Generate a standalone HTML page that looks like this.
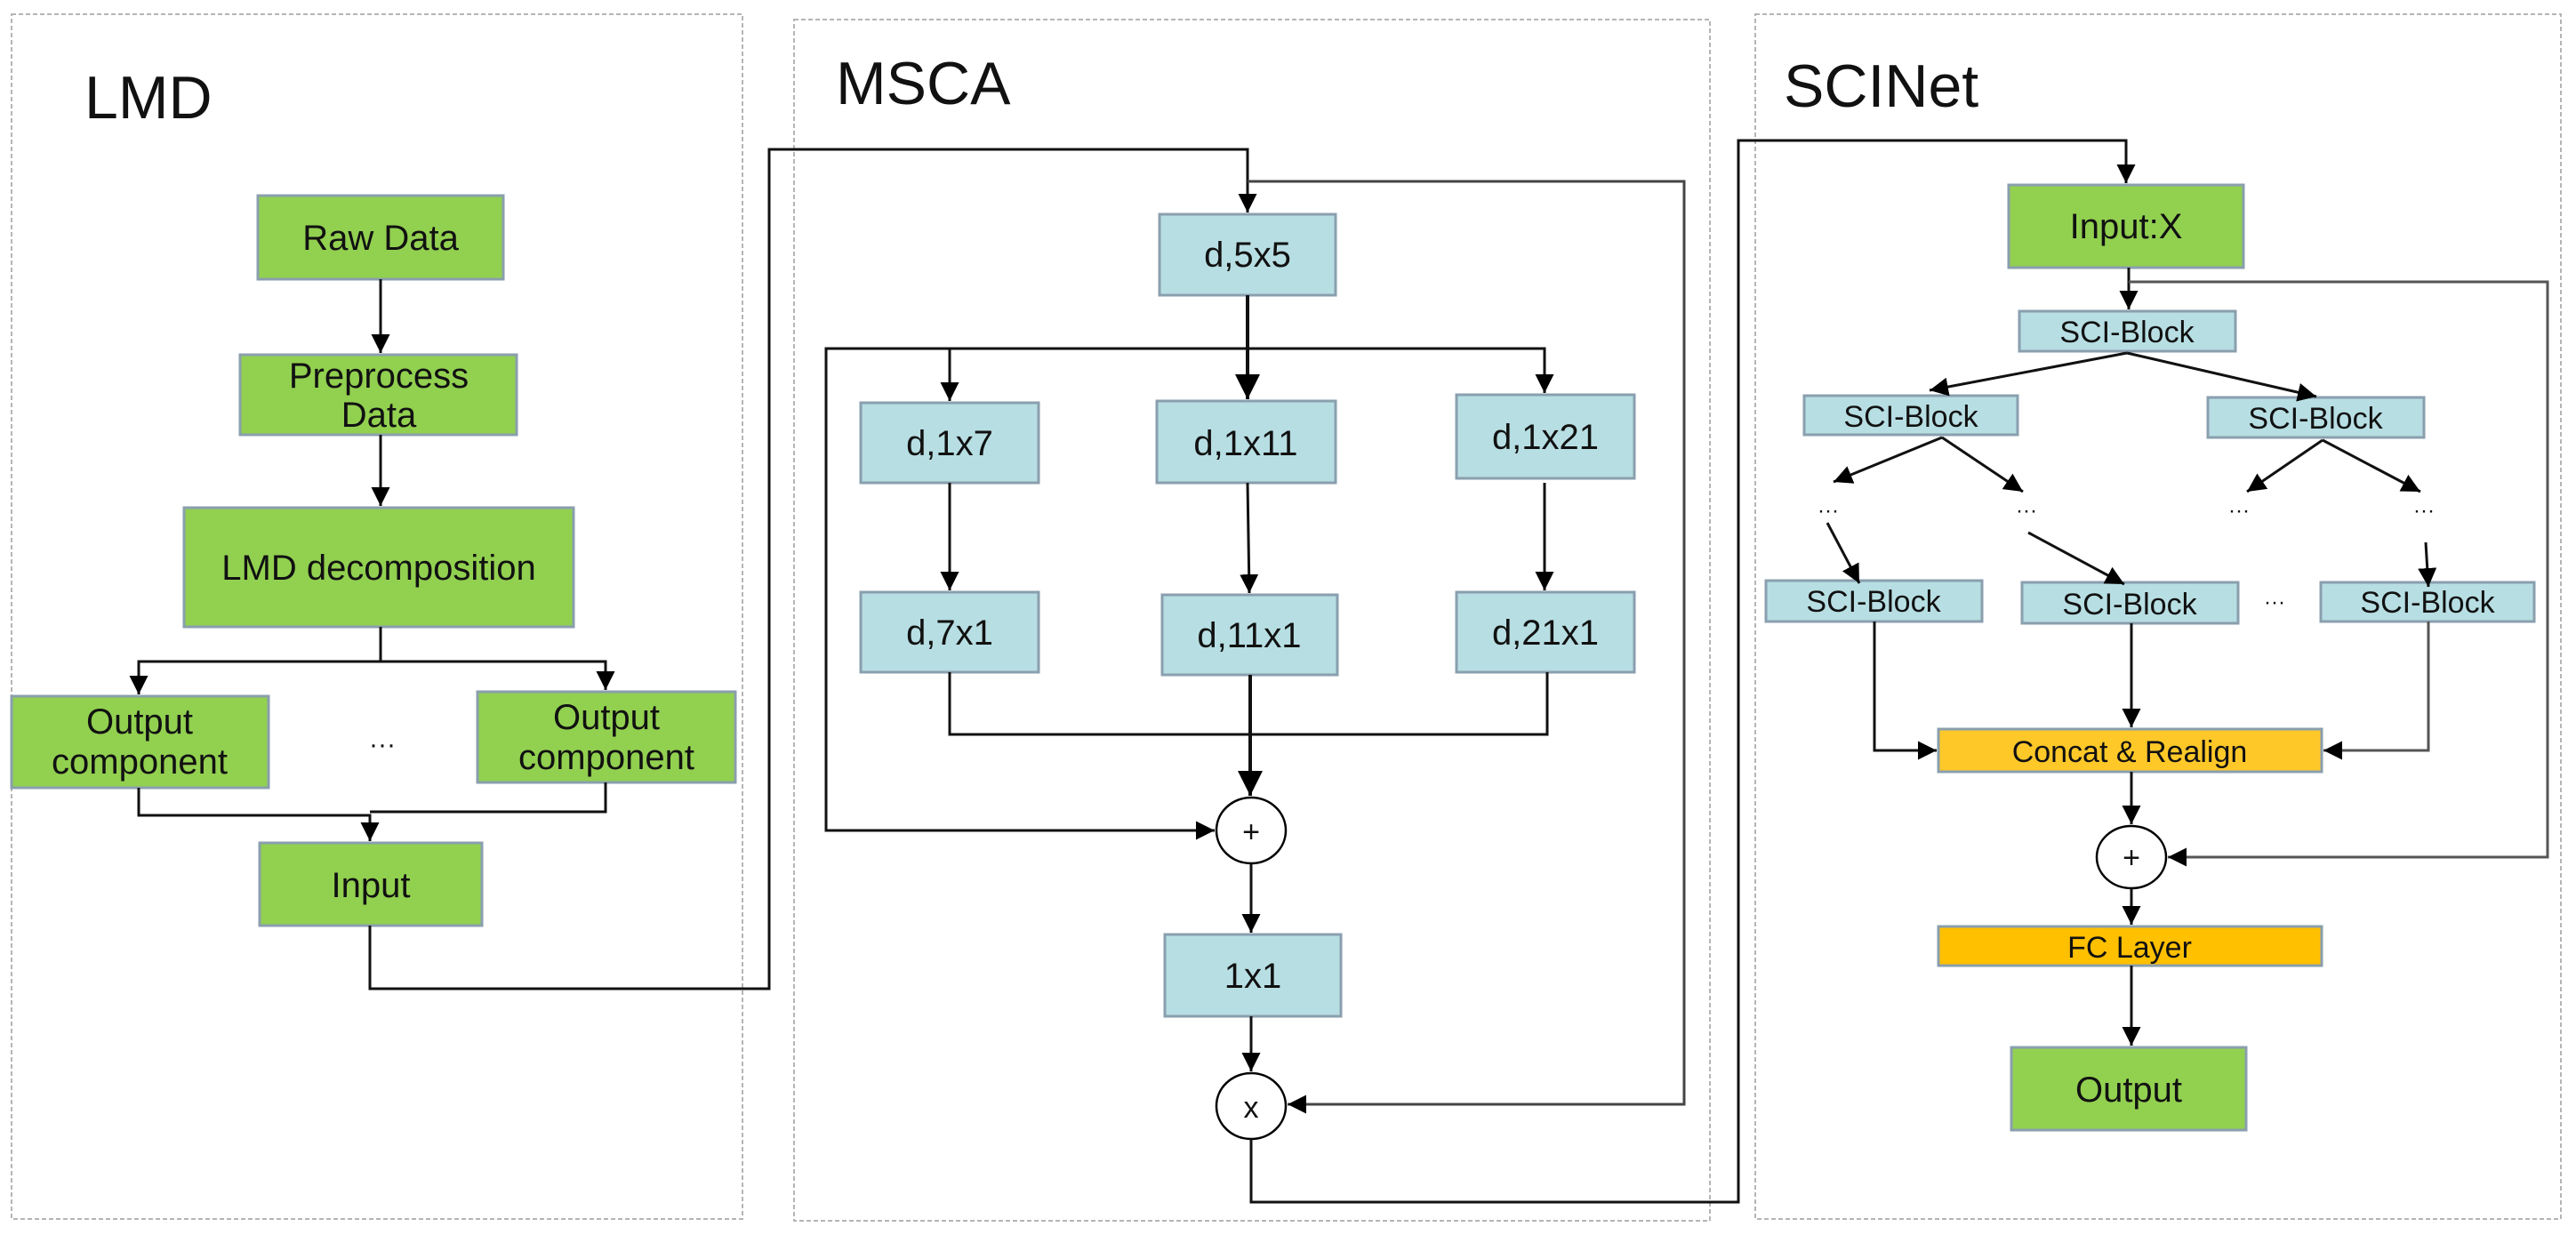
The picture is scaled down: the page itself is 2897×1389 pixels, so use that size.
<!DOCTYPE html>
<html><head><meta charset="utf-8"><style>
html,body{margin:0;padding:0;background:#fff}
svg{display:block}
text{font-family:"Liberation Sans",Arial,sans-serif;fill:#111}
</style></head><body>
<svg width="2897" height="1389" viewBox="0 0 2897 1389" xmlns="http://www.w3.org/2000/svg">
<defs>
<marker id="a" viewBox="0 0 10 10" refX="10" refY="5" markerWidth="7" markerHeight="7" markerUnits="strokeWidth" orient="auto"><path d="M0,0 L10,5 L0,10 z" fill="#000"/></marker>
</defs>
<g fill="none" stroke="#b5b5b5" stroke-width="2" stroke-dasharray="5,3">
<rect x="13" y="16" width="822" height="1355"/>
<rect x="893" y="22" width="1030" height="1351"/>
<rect x="1974" y="16" width="906" height="1355"/>
</g>
<text x="95" y="133" font-size="68">LMD</text>
<text x="940" y="117" font-size="68">MSCA</text>
<text x="2006" y="120" font-size="68">SCINet</text>

<g stroke="#8a9fae" stroke-width="3">
<g fill="#92d050">
<rect x="290" y="220" width="276" height="94"/>
<rect x="270" y="399" width="311" height="90"/>
<rect x="207" y="571" width="438" height="134"/>
<rect x="13" y="783" width="289" height="103"/>
<rect x="537" y="778" width="290" height="102"/>
<rect x="292" y="948" width="250" height="93"/>
<rect x="2259" y="208" width="264" height="93"/>
<rect x="2262" y="1178" width="264" height="93"/>
</g>
<g fill="#b7dee3">
<rect x="1304" y="241" width="198" height="91"/>
<rect x="968" y="453" width="200" height="90"/>
<rect x="1301" y="451" width="201" height="92"/>
<rect x="1638" y="444" width="200" height="94"/>
<rect x="968" y="666" width="200" height="90"/>
<rect x="1307" y="669" width="197" height="90"/>
<rect x="1638" y="666" width="200" height="90"/>
<rect x="1310" y="1051" width="198" height="92"/>
<rect x="2271" y="350" width="243" height="45"/>
<rect x="2029" y="445" width="240" height="44"/>
<rect x="2483" y="447" width="243" height="45"/>
<rect x="1986" y="653" width="243" height="46"/>
<rect x="2274" y="655" width="243" height="46"/>
<rect x="2610" y="655" width="240" height="44"/>
</g>
<rect x="2180" y="820" width="431" height="48" fill="#ffc829"/>
<rect x="2180" y="1042" width="431" height="44" fill="#ffc000"/>
</g>
<g fill="#fff" stroke="#000" stroke-width="2.5">
<ellipse cx="1407" cy="934" rx="39" ry="37"/>
<ellipse cx="1407" cy="1244" rx="39" ry="37"/>
<ellipse cx="2397" cy="964" rx="39" ry="35"/>
</g>

<g fill="none" stroke="#111" stroke-width="3">
<path d="M428 314 V397" marker-end="url(#a)"/>
<path d="M428 489 V569" marker-end="url(#a)"/>
<path d="M428 705 V744 H156 V781" marker-end="url(#a)"/>
<path d="M428 744 H681 V776" marker-end="url(#a)"/>
<path d="M156 886 V917 H416 V946" marker-end="url(#a)"/>
<path d="M681 880 V913 H416"/>
<path d="M416 1041 V1112 H865 V168 H1403 V239" marker-end="url(#a)"/>
<path d="M1403 204 H1894 V1242 H1448" marker-end="url(#a)" stroke="#444"/>
<path d="M1403 332 V449" marker-end="url(#a)" stroke-width="4"/>
<path d="M1403 392 H929 V934 H1366" marker-end="url(#a)"/>
<path d="M1403 392 H1068 V451" marker-end="url(#a)"/>
<path d="M1403 392 H1737 V442" marker-end="url(#a)"/>
<path d="M1068 543 V664" marker-end="url(#a)"/>
<path d="M1403 543 L1405 667" marker-end="url(#a)"/>
<path d="M1737 543 V664" marker-end="url(#a)"/>
<path d="M1068 756 V826 H1740 V756"/>
<path d="M1406 759 V895" marker-end="url(#a)" stroke-width="4"/>
<path d="M1407 971 V1049" marker-end="url(#a)"/>
<path d="M1407 1143 V1205" marker-end="url(#a)"/>
<path d="M1407 1281 V1352 H1955 V158 H2391 V206" marker-end="url(#a)"/>
<path d="M2394 301 V348" marker-end="url(#a)"/>
<path d="M2394 317 H2865 V964 H2438" marker-end="url(#a)" stroke="#555"/>
<path d="M2392 397 L2170 439" marker-end="url(#a)"/>
<path d="M2392 397 L2605 446" marker-end="url(#a)"/>
<path d="M2184 492 L2062 542" marker-end="url(#a)"/>
<path d="M2184 492 L2275 553" marker-end="url(#a)"/>
<path d="M2612 495 L2527 553" marker-end="url(#a)"/>
<path d="M2612 495 L2722 553" marker-end="url(#a)"/>
<path d="M2055 588 L2091 656" marker-end="url(#a)"/>
<path d="M2281 599 L2389 657" marker-end="url(#a)"/>
<path d="M2728 610 L2731 660" marker-end="url(#a)"/>
<path d="M2108 699 V844 H2178" marker-end="url(#a)"/>
<path d="M2397 701 V818" marker-end="url(#a)"/>
<path d="M2731 699 V844 H2613" marker-end="url(#a)" stroke="#555"/>
<path d="M2397 868 V927" marker-end="url(#a)"/>
<path d="M2397 999 V1040" marker-end="url(#a)"/>
<path d="M2397 1086 V1176" marker-end="url(#a)"/>
</g>

<g font-size="40" text-anchor="middle">
<text x="428" y="281">Raw Data</text>
<text x="426" y="436">Preprocess</text>
<text x="426" y="480">Data</text>
<text x="426" y="652">LMD decomposition</text>
<text x="157" y="825">Output</text>
<text x="157" y="870">component</text>
<text x="682" y="820">Output</text>
<text x="682" y="865">component</text>
<text x="430" y="847" font-size="30">···</text>
<text x="417" y="1009">Input</text>
<text x="1403" y="300">d,5x5</text>
<text x="1068" y="512">d,1x7</text>
<text x="1401" y="512">d,1x11</text>
<text x="1738" y="505">d,1x21</text>
<text x="1068" y="725">d,7x1</text>
<text x="1405" y="728">d,11x1</text>
<text x="1738" y="725">d,21x1</text>
<text x="1409" y="1111">1x1</text>
<text x="1407" y="947" font-size="34">+</text>
<text x="1407" y="1257" font-size="34">x</text>
<text x="2391" y="268">Input:X</text>
<text x="2394" y="1239">Output</text>
</g>
<g font-size="34" text-anchor="middle">
<text x="2392" y="385">SCI-Block</text>
<text x="2149" y="480">SCI-Block</text>
<text x="2604" y="482">SCI-Block</text>
<text x="2107" y="688">SCI-Block</text>
<text x="2395" y="691">SCI-Block</text>
<text x="2730" y="689">SCI-Block</text>
<text x="2395" y="857">Concat &amp; Realign</text>
<text x="2395" y="1077">FC Layer</text>
<text x="2397" y="976">+</text>
<g font-size="24"><text x="2056" y="582">···</text><text x="2279" y="582">···</text><text x="2518" y="582">···</text><text x="2726" y="582">···</text><text x="2558" y="685">···</text></g>
</g>
</svg>
</body></html>
